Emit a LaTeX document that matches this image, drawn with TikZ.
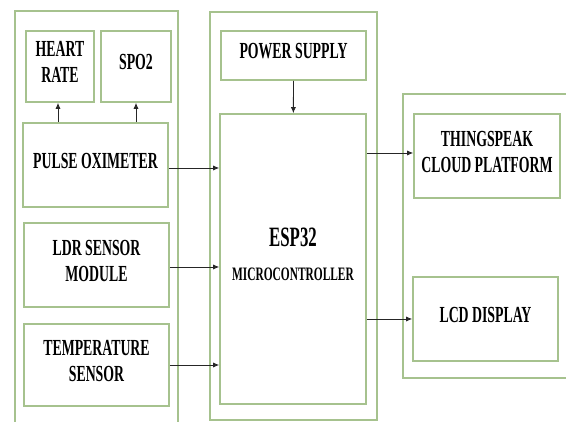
\documentclass[tikz,border=0pt]{standalone}
\usepackage{fontspec}
\setmainfont{Liberation Serif}[FakeStretch=0.6]
\usepackage{tikz}
\usetikzlibrary{arrows.meta,positioning}
\definecolor{panelGreen}{HTML}{A6C28E}

\begin{document}
\begin{tikzpicture}[
    x=1pt, y=-1pt,
    align=center,
    panel/.style = {draw=panelGreen, line width=1.6pt},
    block/.style = {rectangle, draw=panelGreen, line width=1.6pt, fill=white, text depth=9pt, font=\bfseries\fontsize{23}{26}\selectfont, inner sep=0pt},
    arrow/.style = {-{Latex[length=6pt,width=5pt]}, line width=0.8pt, color=black!85}
]
    \useasboundingbox (0,0) rectangle (566,422);
    \clip (0,0) rectangle (566,422);

    % Panels
    \draw [panel] (15,11) rectangle (178,426);
    \draw [panel] (210,12) rectangle (377,420);
    \draw [panel] (403,94) rectangle (572,378);

    % Sensors
    \node [block, minimum width=68pt, minimum height=71pt] (heart) at (60,66.5) {HEART\\RATE};
    \node [block, minimum width=70pt, minimum height=71pt] (spo) at (136,66.5) {SPO2};
    \node [block, minimum width=145pt, minimum height=84pt] (pulse) at (95.5,165) {PULSE OXIMETER};
    \node [block, minimum width=145pt, minimum height=84pt] (ldr) at (96.5,265) {LDR SENSOR\\MODULE};
    \node [block, minimum width=145pt, minimum height=82pt] (temp) at (96.5,365) {TEMPERATURE\\SENSOR};

    % Controller
    \node [block, minimum width=145pt, minimum height=49pt] (power) at (293.5,55.5) {POWER SUPPLY};
    \node [block, minimum width=146pt, minimum height=290pt, text depth=10pt, font=\bfseries] (esp) at (293,259)
        {{\fontsize{28}{30}\selectfont ESP32}\\[20pt]{\fontsize{19}{20}\selectfont MICROCONTROLLER}};

    % Outputs
    \node [block, minimum width=146pt, minimum height=84pt] (cloud) at (487,156) {THINGSPEAK\\CLOUD PLATFORM};
    \node [block, minimum width=145pt, minimum height=84pt] (lcd) at (485.5,319) {LCD DISPLAY};

    % Connections
    \draw [arrow] ([xshift=-2pt]pulse.north -| heart) -- ([xshift=-2pt]heart.south);
    \draw [arrow] (pulse.north -| spo) -- (spo.south);
    \draw [arrow] ([yshift=-3pt]pulse.east) -- ([yshift=-3pt]pulse.east -| esp.west);
    \draw [arrow] ([yshift=-2pt]ldr.east) -- ([yshift=-2pt]ldr.east -| esp.west);
    \draw [arrow] (temp.east) -- (temp.east -| esp.west);
    \draw [arrow] (power) -- (esp);
    \draw [arrow] ([yshift=3pt]esp.east |- cloud) -- ([yshift=3pt]cloud.west);
    \draw [arrow] (esp.east |- lcd) -- (lcd.west);
\end{tikzpicture}
\end{document}
